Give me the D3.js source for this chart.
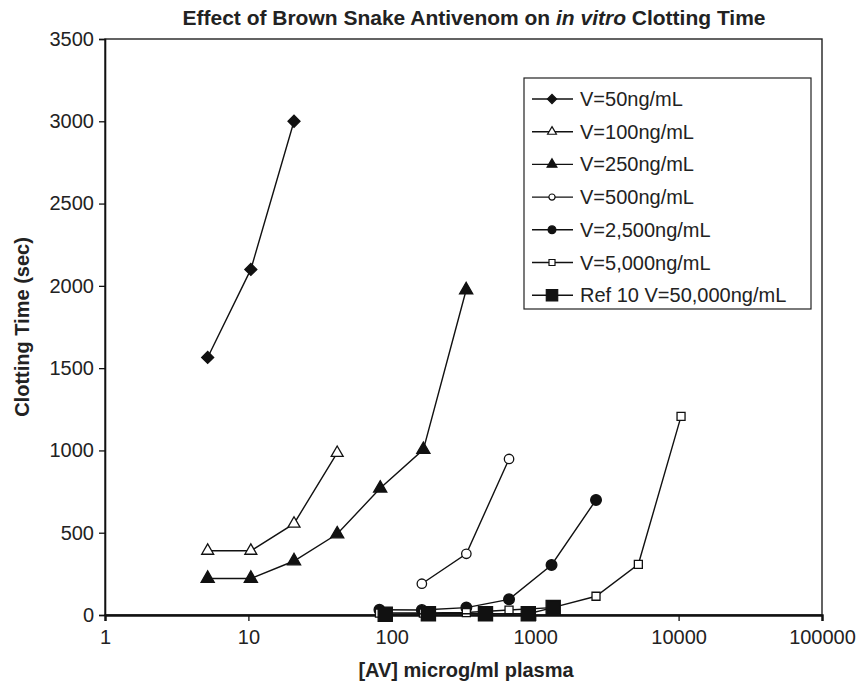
<!DOCTYPE html>
<html>
<head>
<meta charset="utf-8">
<script src="https://cdn.jsdelivr.net/npm/d3@7"></script>
<style>
  body { margin: 0; background: #fff; }
  svg { display: block; }
</style>
</head>
<body>
<div id="chart"></div>
<script>
// data
const seriesNames = ["V=50ng/mL", "V=100ng/mL", "V=250ng/mL", "V=500ng/mL",
  "V=2,500ng/mL", "V=5,000ng/mL", "Ref 10 V=50,000ng/mL"];

const v50 = [[5.2, 1565], [10.4, 2100], [20.8, 3000]];
const v100 = [[5.2, 390], [10.4, 390], [20.8, 555], [41.6, 985]];
const v250 = [[5.2, 222], [10.4, 222], [20.8, 328], [41.6, 492], [83, 770], [166, 1005], [330, 1975]];
const v500 = [[162, 190], [331, 372], [657, 948]];
const v2500 = [[82, 32], [162, 30], [331, 45], [657, 95], [1300, 304], [2655, 699]];
const v5000 = [[82, 12], [166, 12], [331, 15], [657, 30], [1320, 45], [2655, 114], [5240, 308], [10400, 1207]];
const ref10 = [[90, 5], [180, 8], [450, 8], [895, 8], [1335, 45]];

const xTicks = [1, 10, 100, 1000, 10000, 100000];
const yTicks = [0, 500, 1000, 1500, 2000, 2500, 3000, 3500];

const width = 861, height = 686;
const margin = {top: 39, right: 39, bottom: 71, left: 105};
const innerWidth = width - margin.left - margin.right;
const innerHeight = height - margin.top - margin.bottom;

const svg = d3.select("#chart")
  .append("svg")
    .attr("width", width)
    .attr("height", height)
    .style("font-family", "'Liberation Sans', Arial, sans-serif");

const xScale = d3.scaleLog()
  .domain([1, 100000])
  .range([0, innerWidth]);

const yScale = d3.scaleLinear()
  .domain([0, 3500])
  .range([innerHeight, 0]);

const innerChart = svg.append("g")
  .attr("transform", `translate(${margin.left}, ${margin.top})`);

/* frame */
innerChart.append("rect")
  .attr("x", 0).attr("y", 0)
  .attr("width", innerWidth).attr("height", innerHeight)
  .attr("fill", "none")
  .attr("stroke", "#222")
  .attr("stroke-width", 1.4);

/* axes */
const yAxis = d3.axisLeft(yScale)
  .tickValues(yTicks)
  .tickSize(6)
  .tickPadding(5)
  .tickFormat(d3.format("d"));

const xAxis = d3.axisBottom(xScale)
  .tickValues(xTicks)
  .tickSize(6)
  .tickPadding(9)
  .tickFormat(d3.format("d"));

const gy = innerChart.append("g").call(yAxis);
const gx = innerChart.append("g")
  .attr("transform", `translate(0, ${innerHeight})`)
  .call(xAxis);

[gx, gy].forEach(g => {
  g.select(".domain").attr("stroke", "#111").attr("stroke-width", 1.6);
  g.selectAll(".tick line").attr("stroke", "#111").attr("stroke-width", 1.3);
  g.selectAll(".tick text")
    .attr("fill", "#222")
    .style("font-size", "20px")
    .style("font-family", "'Liberation Sans', Arial, sans-serif");
});
gx.select(".domain").attr("stroke-width", 2.4);

/* titles */
svg.append("text")
  .attr("x", 474).attr("y", 25)
  .attr("text-anchor", "middle")
  .attr("textLength", 583)
  .attr("lengthAdjust", "spacingAndGlyphs")
  .style("font-weight", "bold")
  .style("font-size", "20px")
  .attr("fill", "#222")
  .call(t => {
    t.append("tspan").text("Effect of Brown Snake Antivenom on ");
    t.append("tspan").style("font-style", "italic").text("in vitro");
    t.append("tspan").text(" Clotting Time");
  });

svg.append("text")
  .attr("x", 466).attr("y", 677)
  .attr("text-anchor", "middle")
  .style("font-weight", "bold")
  .style("font-size", "20px")
  .attr("fill", "#222")
  .text("[AV] microg/ml plasma");

svg.append("text")
  .attr("transform", `translate(29, ${margin.top + innerHeight / 2}) rotate(-90)`)
  .attr("text-anchor", "middle")
  .style("font-weight", "bold")
  .style("font-size", "20px")
  .attr("fill", "#222")
  .text("Clotting Time (sec)");

/* series */
const seriesData = [v50, v100, v250, v500, v2500, v5000, ref10];
const markers = [
  {type: d3.symbolSquare, size: 72, fill: "#111", rotate: 45, lsize: 42},
  {type: d3.symbolTriangle, size: 62, fill: "#fff", rotate: 0, lsize: 34},
  {type: d3.symbolTriangle, size: 75, fill: "#111", rotate: 0, lsize: 42},
  {type: d3.symbolCircle, size: 70, fill: "#fff", rotate: 0, lsize: 30},
  {type: d3.symbolCircle, size: 90, fill: "#111", rotate: 0, lsize: 48},
  {type: d3.symbolSquare, size: 64, fill: "#fff", rotate: 0, lsize: 36},
  {type: d3.symbolSquare, size: 200, fill: "#111", rotate: 0, lsize: 130}
];

const lineGenerator = d3.line()
  .x(d => xScale(d[0]))
  .y(d => yScale(d[1]));

seriesData.forEach((series, i) => {
  const m = markers[i];
  const g = innerChart.append("g").attr("class", `series-${i}`);
  g.append("path")
    .attr("d", lineGenerator(series))
    .attr("fill", "none")
    .attr("stroke", "#111")
    .attr("stroke-width", 1.4);
  g.selectAll("path.marker")
    .data(series)
    .join("path")
      .attr("class", "marker")
      .attr("d", d3.symbol().type(m.type).size(m.size))
      .attr("transform", d => `translate(${xScale(d[0])}, ${yScale(d[1])}) rotate(${m.rotate})`)
      .attr("fill", m.fill)
      .attr("stroke", "#111")
      .attr("stroke-width", 1.3);
});

/* legend */
const legend = svg.append("g").attr("transform", "translate(524, 78)");
legend.append("rect")
  .attr("width", 287).attr("height", 231)
  .attr("fill", "#fff")
  .attr("stroke", "#222")
  .attr("stroke-width", 1.2);

seriesNames.forEach((name, i) => {
  const m = markers[i];
  const row = legend.append("g").attr("transform", `translate(0, ${21 + i * 32.7})`);
  row.append("line")
    .attr("x1", 8).attr("x2", 49)
    .attr("stroke", "#111").attr("stroke-width", 1.4);
  row.append("path")
    .attr("d", d3.symbol().type(m.type).size(m.lsize))
    .attr("transform", `translate(28, 0) rotate(${m.rotate})`)
    .attr("fill", m.fill)
    .attr("stroke", "#111")
    .attr("stroke-width", 1.2);
  row.append("text")
    .attr("x", 56).attr("dy", "0.35em")
    .style("font-size", "20px")
    .attr("fill", "#222")
    .text(name);
});
</script>
</body>
</html>
